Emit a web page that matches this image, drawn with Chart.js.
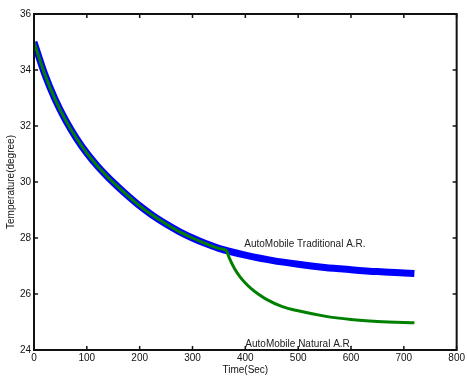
<!DOCTYPE html>
<html>
<head>
<meta charset="utf-8">
<script src="https://cdn.jsdelivr.net/npm/chart.js@4"></script>
<style>
    html, body { margin: 0; padding: 0; background: #fff; }
    #wrap { width: 467px; height: 378px; }
</style>
</head>
<body>
<div id="wrap"><canvas id="chart" width="467" height="378"></canvas></div>
<script>
// Значения
const traditionalTime = [0, 20, 40, 60, 80, 100, 120, 140, 160, 180, 200, 225, 250, 275, 300, 325, 350, 375, 400, 450, 500, 550, 600, 650, 700, 720];
const traditionalTemp = [35.0, 33.87, 32.95, 32.2, 31.57, 31.03, 30.57, 30.17, 29.81, 29.47, 29.15, 28.8, 28.5, 28.23, 28.0, 27.8, 27.63, 27.5, 27.39, 27.2, 27.06, 26.95, 26.87, 26.8, 26.75, 26.73];

const naturalTime = [0, 20, 40, 60, 80, 100, 120, 140, 160, 180, 200, 225, 250, 275, 300, 325, 350, 364, 370, 380, 390, 400, 410, 425, 440, 470, 500, 550, 600, 650, 700, 720];
const naturalTemp = [35.0, 33.87, 32.95, 32.2, 31.57, 31.03, 30.57, 30.17, 29.81, 29.47, 29.15, 28.8, 28.5, 28.23, 28.0, 27.8, 27.63, 27.55, 27.27, 26.89, 26.61, 26.39, 26.21, 25.99, 25.81, 25.55, 25.4, 25.21, 25.09, 25.02, 24.98, 24.97];

const xTicks = [0, 100, 200, 300, 400, 500, 600, 700, 800];
const yTicks = [24, 26, 28, 30, 32, 34, 36];

const annotations = [
    { x: 398, y: 27.79, text: 'AutoMobile Traditional A.R.' },
    { x: 400, y: 24.21, text: 'AutoMobile Natural A.R.' }
];

const FONT = 'Liberation Sans, Arial, sans-serif';

function toPoints(xs, ys) {
    return xs.map((x, i) => ({ x: x, y: ys[i] }));
}

// Рамка, внутренние засечки и подписи на графике
const boxPlugin = {
    id: 'box',
    afterDatasetsDraw(chart) {
        const ctx = chart.ctx;
        const a = chart.chartArea;
        const xs = chart.scales.x;
        const ys = chart.scales.y;
        const len = 4;
        ctx.save();
        ctx.strokeStyle = '#111';
        ctx.lineWidth = 1.5;
        ctx.beginPath();
        xTicks.forEach(v => {
            const px = xs.getPixelForValue(v);
            ctx.moveTo(px, a.bottom); ctx.lineTo(px, a.bottom - len);
            ctx.moveTo(px, a.top); ctx.lineTo(px, a.top + len);
        });
        yTicks.forEach(v => {
            const py = ys.getPixelForValue(v);
            ctx.moveTo(a.left, py); ctx.lineTo(a.left + len, py);
            ctx.moveTo(a.right, py); ctx.lineTo(a.right - len, py);
        });
        ctx.stroke();
        ctx.lineWidth = 2;
        ctx.strokeRect(a.left, a.top, a.right - a.left, a.bottom - a.top);

        ctx.fillStyle = '#222';
        ctx.font = '10px ' + FONT;
        ctx.textAlign = 'left';
        ctx.textBaseline = 'middle';
        annotations.forEach(t => {
            ctx.fillText(t.text, xs.getPixelForValue(t.x), ys.getPixelForValue(t.y));
        });
        ctx.restore();
    }
};

new Chart(document.getElementById('chart').getContext('2d'), {
    type: 'line',
    data: {
        datasets: [{
            label: 'Natural',
            data: toPoints(naturalTime, naturalTemp),
            borderColor: 'rgb(0, 128, 0)',
            borderWidth: 3,
            pointRadius: 0,
            cubicInterpolationMode: 'monotone',
            order: 0
        }, {
            label: 'Traditional',
            data: toPoints(traditionalTime, traditionalTemp),
            borderColor: 'rgb(0, 0, 255)',
            borderWidth: 7,
            pointRadius: 0,
            cubicInterpolationMode: 'monotone',
            order: 1
        }]
    },
    options: {
        responsive: false,
        animation: false,
        layout: { padding: { top: 14, right: 9, left: 0, bottom: 0 } },
        plugins: {
            legend: { display: false },
            tooltip: { enabled: false }
        },
        scales: {
            x: {
                type: 'linear',
                min: 0,
                max: 800,
                afterBuildTicks: s => { s.ticks = xTicks.map(v => ({ value: v })); },
                afterFit: s => { s.height = 28; },
                grid: { display: false, drawTicks: false },
                border: { display: false },
                ticks: { color: '#111', padding: 2, maxRotation: 0, font: { family: FONT, size: 10 } },
                title: {
                    display: true,
                    text: 'Time(Sec)',
                    color: '#111',
                    padding: { top: 0, bottom: 2 },
                    font: { family: FONT, size: 10 }
                }
            },
            y: {
                min: 24,
                max: 36,
                afterBuildTicks: s => { s.ticks = yTicks.map(v => ({ value: v })); },
                afterFit: s => { s.width = 34; },
                grid: { display: false, drawTicks: false },
                border: { display: false },
                ticks: { color: '#111', padding: 3, font: { family: FONT, size: 10 } },
                title: {
                    display: true,
                    text: 'Temperature(degree)',
                    color: '#111',
                    padding: { top: 5, bottom: 0 },
                    font: { family: FONT, size: 10 }
                }
            }
        }
    },
    plugins: [boxPlugin]
});
</script>
</body>
</html>
